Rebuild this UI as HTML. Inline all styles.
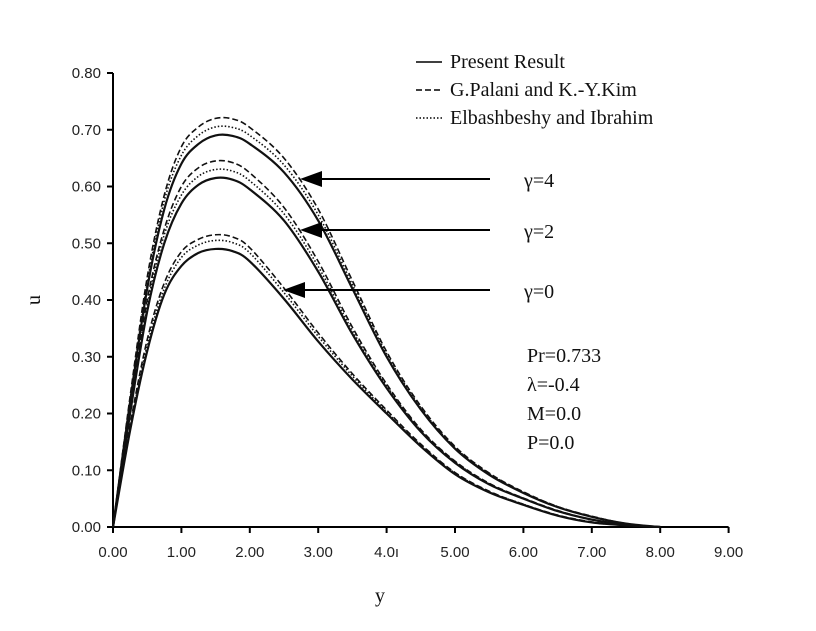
<!DOCTYPE html>
<html><head><meta charset="utf-8"><style>
body{margin:0;background:#fff}
svg{display:block}
.t{font-family:"Liberation Sans",sans-serif;font-size:15px;fill:#222}
.s{font-family:"Liberation Serif",serif;font-size:20px;fill:#111}
</style></head><body>
<svg id="c" width="816" height="631" viewBox="0 0 816 631"></svg>
<script>
const xs=[0,0.25,0.5,0.75,1,1.25,1.5,1.75,2,2.5,3,3.5,4,4.5,5,5.5,6,6.5,7,7.5,8];
const g0Solid=[0,0.17,0.31,0.41,0.46,0.483,0.49,0.486,0.468,0.402,0.327,0.26,0.2,0.142,0.093,0.061,0.039,0.02,0.008,0.003,0];
const g0Dash=[0,0.18,0.33,0.43,0.485,0.507,0.515,0.511,0.492,0.421,0.342,0.27,0.206,0.146,0.096,0.063,0.04,0.021,0.009,0.003,0];
const g0Dot=[0,0.175,0.32,0.42,0.475,0.497,0.505,0.501,0.483,0.413,0.336,0.266,0.203,0.144,0.095,0.062,0.04,0.02,0.008,0.003,0];
const g2Solid=[0,0.2,0.38,0.5,0.57,0.603,0.615,0.612,0.595,0.54,0.45,0.34,0.245,0.168,0.113,0.075,0.05,0.028,0.013,0.004,0];
const g2Dash=[0,0.21,0.4,0.525,0.6,0.633,0.645,0.642,0.624,0.563,0.468,0.352,0.252,0.172,0.116,0.077,0.051,0.029,0.013,0.004,0];
const g2Dot=[0,0.205,0.39,0.515,0.585,0.618,0.63,0.627,0.61,0.552,0.459,0.346,0.249,0.17,0.115,0.076,0.05,0.028,0.013,0.004,0];
const g4Solid=[0,0.22,0.42,0.56,0.64,0.675,0.69,0.689,0.675,0.625,0.54,0.42,0.3,0.207,0.138,0.092,0.06,0.035,0.018,0.006,0];
const g4Dash=[0,0.23,0.44,0.585,0.67,0.705,0.72,0.719,0.704,0.65,0.56,0.434,0.309,0.213,0.142,0.095,0.062,0.036,0.019,0.006,0];
const g4Dot=[0,0.225,0.43,0.575,0.655,0.69,0.705,0.704,0.69,0.638,0.55,0.427,0.305,0.21,0.14,0.094,0.061,0.036,0.018,0.006,0];
const xTicks=["0.00","1.00","2.00","3.00","4.0\u0131","5.00","6.00","7.00","8.00","9.00"];
const yTicks=["0.00","0.10","0.20","0.30","0.40","0.50","0.60","0.70","0.80"];
const X=v=>113+v*68.4, Y=v=>527-v*567.5;
const svg=document.getElementById('c');const NS='http://www.w3.org/2000/svg';
function el(t,a,txt){const e=document.createElementNS(NS,t);for(const k in a)e.setAttribute(k,a[k]);if(txt!=null)e.textContent=txt;svg.appendChild(e);return e;}
let e;
e=el('line',{x1:113,y1:Y(0),x2:X(9),y2:Y(0),stroke:'#000','stroke-width':2});


e=el('line',{x1:113,y1:Y(0),x2:113,y2:Y(0.8),stroke:'#000','stroke-width':2});


xTicks.forEach((l,i)=>{el('line',{x1:X(i),x2:X(i),y1:Y(0),y2:Y(0)+6,stroke:'#000','stroke-width':2});
 e=el('text',{x:X(i),y:Y(0)+30,'text-anchor':'middle',class:'t'},l);
 
 });
yTicks.forEach((l,i)=>{el('line',{x1:107,x2:113,y1:Y(i/10),y2:Y(i/10),stroke:'#000','stroke-width':2});
 e=el('text',{x:101,y:Y(i/10)+5,'text-anchor':'end',class:'t'},l);
 
 });
e=el('text',{x:380,y:602,'text-anchor':'middle',class:'s'},'y');


e=el('text',{x:40,y:300,'text-anchor':'middle',class:'s',transform:'rotate(-90 40 300)'},'u');


function path(arr){const p=xs.map((x,i)=>[X(x),Y(arr[i])]);let d='M'+p[0][0]+','+p[0][1];
 for(let i=0;i<p.length-1;i++){const a=p[i-1]||p[i],b=p[i],c=p[i+1],n=p[i+2]||c;
 d+=` C${b[0]+(c[0]-a[0])/6},${b[1]+(c[1]-a[1])/6} ${c[0]-(n[0]-b[0])/6},${c[1]-(n[1]-b[1])/6} ${c[0]},${c[1]}`;}return d;}
const series=[[g0Solid,'none','g0-present'],[g0Dash,'6,3','g0-palani'],[g0Dot,'1.5,2','g0-elbashbeshy'],
[g2Solid,'none','g2-present'],[g2Dash,'6,3','g2-palani'],[g2Dot,'1.5,2','g2-elbashbeshy'],
[g4Solid,'none','g4-present'],[g4Dash,'6,3','g4-palani'],[g4Dot,'1.5,2','g4-elbashbeshy']];
series.forEach(s=>{e=el('path',{d:path(s[0]),fill:'none',stroke:'#111','stroke-width':s[1]=='none'?2.2:1.6,'stroke-dasharray':s[1]});
 
 });
[[179,300,'γ=4'],[230,300,'γ=2'],[290,283,'γ=0']].forEach(a=>{
 el('line',{x1:490,y1:a[0],x2:a[1]+20,y2:a[0],stroke:'#000','stroke-width':2});
 el('polygon',{points:`${a[1]},${a[0]} ${a[1]+22},${a[0]-8} ${a[1]+22},${a[0]+8}`,fill:'#000'});
 e=el('text',{x:524,y:a[0]+8,class:'s'},a[2]);
 
 });
[['none','Present Result',68],['6,3','G.Palani and K.-Y.Kim',96],['1.5,2','Elbashbeshy and Ibrahim',124]].forEach(l=>{
 el('line',{x1:416,x2:442,y1:l[2]-6,y2:l[2]-6,stroke:'#000','stroke-width':1.6,'stroke-dasharray':l[0]});
 e=el('text',{x:450,y:l[2],class:'s'},l[1]);
 
 });
['Pr=0.733','λ=-0.4','M=0.0','P=0.0'].forEach((t,i)=>{e=el('text',{x:527,y:362+i*29,class:'s'},t);
 
 });
</script></body></html>
